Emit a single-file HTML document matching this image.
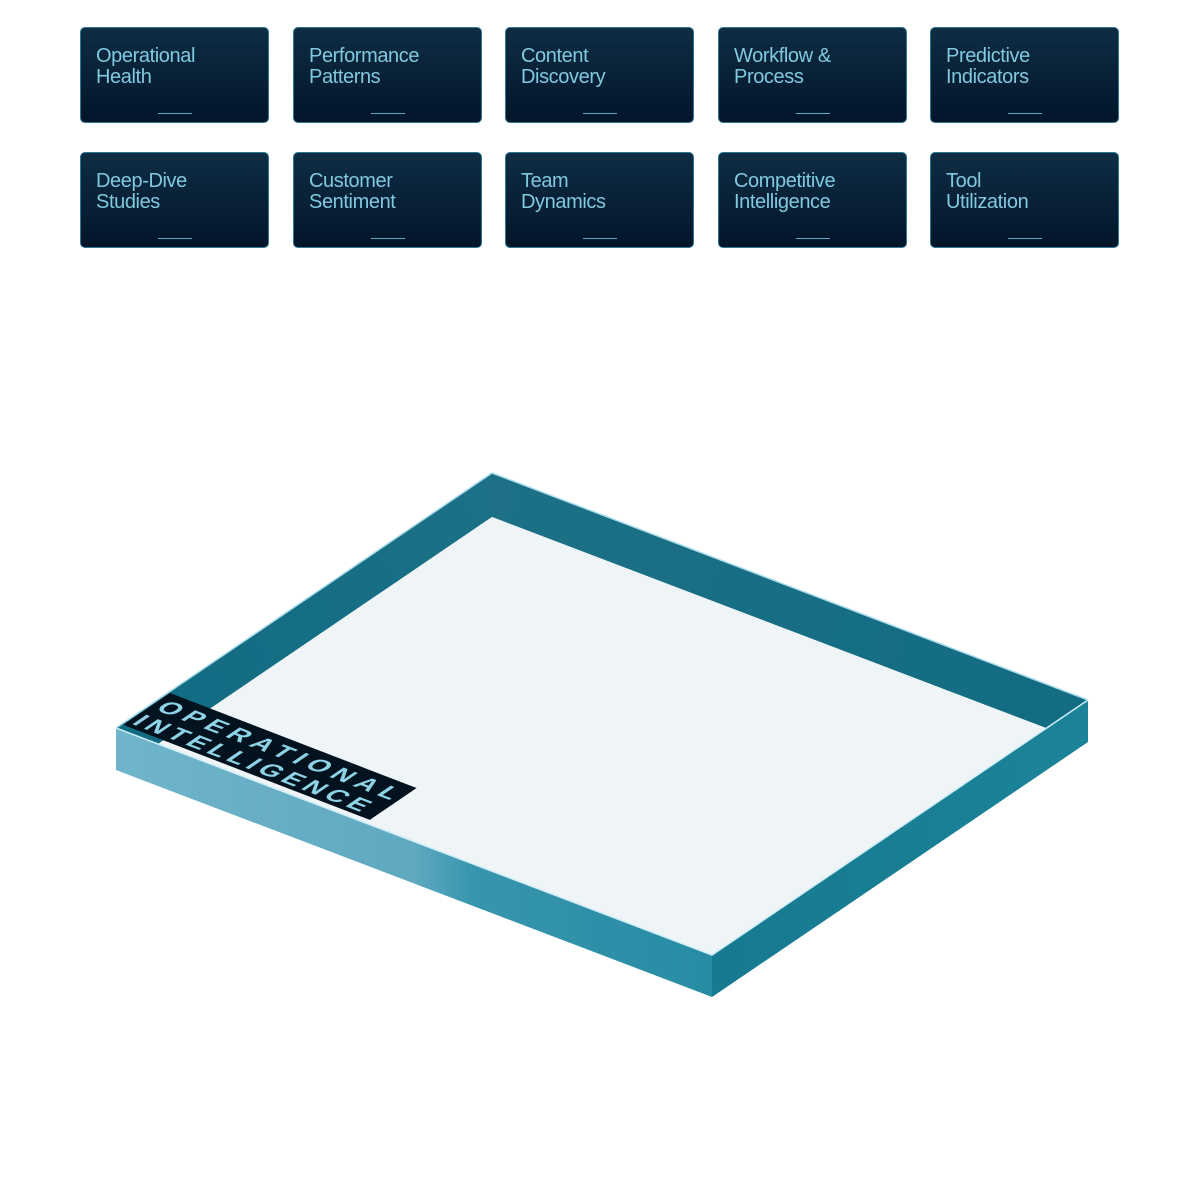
<!DOCTYPE html>
<html><head><meta charset="utf-8"><style>
html,body{margin:0;padding:0;background:#fff;}
body{width:1200px;height:1200px;position:relative;overflow:hidden;font-family:"Liberation Sans",sans-serif;}
.card{position:absolute;width:189px;height:96px;border:1px solid #2b7890;border-radius:5px;background:linear-gradient(#0e2d44,#03152a);box-sizing:border-box;}
.card .t{position:absolute;left:15px;top:18px;color:#80c9df;font-size:20px;line-height:21px;letter-spacing:-0.4px;}
.card .d{position:absolute;left:77px;width:34px;top:85px;height:1px;background:#5aa9c0;}
</style></head><body>
<div class="card" style="left:80px;top:27px"><div class="t">Operational<br>Health</div><div class="d"></div></div>
<div class="card" style="left:293px;top:27px"><div class="t">Performance<br>Patterns</div><div class="d"></div></div>
<div class="card" style="left:505px;top:27px"><div class="t">Content<br>Discovery</div><div class="d"></div></div>
<div class="card" style="left:718px;top:27px"><div class="t">Workflow &amp;<br>Process</div><div class="d"></div></div>
<div class="card" style="left:930px;top:27px"><div class="t">Predictive<br>Indicators</div><div class="d"></div></div>
<div class="card" style="left:80px;top:152px"><div class="t">Deep-Dive<br>Studies</div><div class="d"></div></div>
<div class="card" style="left:293px;top:152px"><div class="t">Customer<br>Sentiment</div><div class="d"></div></div>
<div class="card" style="left:505px;top:152px"><div class="t">Team<br>Dynamics</div><div class="d"></div></div>
<div class="card" style="left:718px;top:152px"><div class="t">Competitive<br>Intelligence</div><div class="d"></div></div>
<div class="card" style="left:930px;top:152px"><div class="t">Tool<br>Utilization</div><div class="d"></div></div>

<svg width="1200" height="1200" style="position:absolute;left:0;top:0">
<defs>
<linearGradient id="lf" x1="116" y1="0" x2="712" y2="0" gradientUnits="userSpaceOnUse">
<stop offset="0" stop-color="#6fb4ca"/><stop offset="0.5" stop-color="#5fa9c0"/><stop offset="0.6" stop-color="#3795ad"/><stop offset="1" stop-color="#268ca4"/></linearGradient>
<linearGradient id="rf" x1="712" y1="0" x2="1088" y2="0" gradientUnits="userSpaceOnUse">
<stop offset="0" stop-color="#167a90"/><stop offset="1" stop-color="#1c8398"/></linearGradient>
<linearGradient id="lw" x1="116" y1="740" x2="492" y2="480" gradientUnits="userSpaceOnUse">
<stop offset="0" stop-color="#106b82"/><stop offset="1" stop-color="#1c7186"/></linearGradient>
<linearGradient id="rw" x1="492" y1="490" x2="1088" y2="710" gradientUnits="userSpaceOnUse">
<stop offset="0" stop-color="#1d7086"/><stop offset="1" stop-color="#126c82"/></linearGradient>
</defs>
<polygon points="116,728 712,955 712,997 116,770" fill="url(#lf)"/>
<polygon points="712,955 1088,700 1088,742 712,997" fill="url(#rf)"/>
<polygon points="116,728 492,473 492,517 158,744" fill="url(#lw)"/>
<polygon points="492,473 1088,700 1046,728 492,517" fill="url(#rw)"/>
<polygon points="492,517 1046,728 712,955 158,744" fill="#eff4f7"/>
<polyline points="116,728 492,473 1088,700" fill="none" stroke="#a9dcec" stroke-width="1.5"/>
<polyline points="1088,700 712,955 116,728" fill="none" stroke="#cdeef8" stroke-width="1.5"/>
<g transform="matrix(0.934,0.36,-0.78,0.53,170,693)">
<rect x="0" y="0" width="264" height="60" fill="#03121f"/>
<text x="6" y="27" font-family="Liberation Sans,sans-serif" font-size="26" font-weight="bold" fill="#8fd3e6" letter-spacing="6.5">OPERATIONAL</text>
<text x="4" y="55" font-family="Liberation Sans,sans-serif" font-size="26" font-weight="bold" fill="#8fd3e6" letter-spacing="5">INTELLIGENCE</text>
</g>
</svg>
</body></html>
